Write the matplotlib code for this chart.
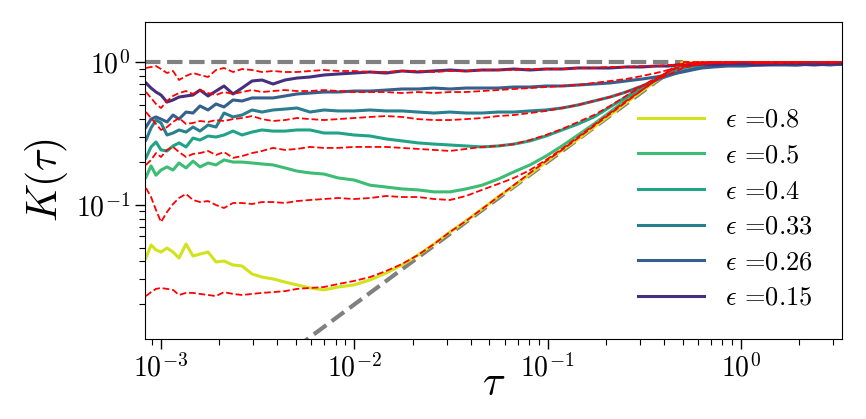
import matplotlib
matplotlib.use("Agg")
import matplotlib.pyplot as plt
import numpy as np

plt.rcParams['font.family'] = 'serif'
plt.rcParams['font.serif'] = ['cmr10', 'DejaVu Serif']
plt.rcParams['mathtext.fontset'] = 'cm'
plt.rcParams['axes.unicode_minus'] = False
plt.rcParams['axes.formatter.use_mathtext'] = True

# tau grid
tau = [8.36e-4, 8.88e-4, 9.42e-4, 1.000e-3, 1.074e-3, 1.154e-3, 1.239e-3, 1.347e-3, 1.464e-3, 1.591e-3,
       1.751e-3, 1.925e-3, 2.118e-3, 2.358e-3, 2.624e-3, 2.957e-3, 3.331e-3, 3.797e-3, 4.381e-3, 5.053e-3,
       5.900e-3, 6.970e-3, 8.236e-3, 9.96e-3, 1.206e-2, 1.459e-2, 1.765e-2, 2.136e-2, 2.584e-2, 3.126e-2,
       3.784e-2, 4.577e-2, 5.538e-2, 6.702e-2, 8.108e-2, 9.81e-2, 0.1187, 0.1437, 0.1738, 0.2103,
       0.2544, 0.3079, 0.3637, 0.4196, 0.4670, 0.500, 0.558, 0.629, 0.726, 0.858,
       1.038, 1.255, 1.556, 1.928, 2.389, 2.89, 3.34]

eps_labels = ['0.8', '0.5', '0.4', '0.33', '0.26', '0.15']
colors = ['#d2e21b', '#3dbc74', '#20a387', '#2a7f8e', '#355f8d', '#472f7d']

# numerics (solid)
K_08 = [0.0423, 0.0522, 0.0482, 0.0466, 0.0497, 0.0466, 0.0423, 0.0530, 0.0437, 0.0451,
        0.0466, 0.0397, 0.0403, 0.0378, 0.0372, 0.0327, 0.0311, 0.0302, 0.0287, 0.0274,
        0.0261, 0.0253, 0.0265, 0.0274, 0.0297, 0.0332, 0.0378, 0.0444, 0.0530, 0.0644,
        0.0769, 0.0933, 0.1132, 0.1352, 0.1641, 0.1992, 0.2416, 0.2887, 0.3503, 0.4251,
        0.5161, 0.6262, 0.736, 0.851, 0.937, 1.0, 0.984, 0.984, 0.984, 0.968,
        0.984, 0.984, 0.968, 0.984, 0.984, 0.984, 0.984]
K_05 = [0.156, 0.187, 0.161, 0.175, 0.184, 0.175, 0.196, 0.181, 0.202, 0.184,
        0.196, 0.190, 0.206, 0.199, 0.199, 0.196, 0.193, 0.190, 0.181, 0.172,
        0.167, 0.164, 0.154, 0.149, 0.137, 0.133, 0.129, 0.127, 0.123, 0.123,
        0.129, 0.137, 0.151, 0.170, 0.190, 0.219, 0.258, 0.308, 0.368, 0.446,
        0.542, 0.647, 0.748, 0.837, 0.893, 0.923, 0.953, 0.968, 0.968, 0.984,
        0.968, 0.984, 0.984, 0.968, 0.984, 0.984, 0.968]
K_04 = [0.213, 0.254, 0.275, 0.242, 0.238, 0.258, 0.271, 0.254, 0.293, 0.284,
        0.303, 0.298, 0.308, 0.328, 0.308, 0.323, 0.334, 0.328, 0.328, 0.334,
        0.334, 0.318, 0.318, 0.308, 0.303, 0.289, 0.280, 0.271, 0.266, 0.262,
        0.258, 0.254, 0.258, 0.266, 0.280, 0.303, 0.334, 0.368, 0.412, 0.484,
        0.568, 0.668, 0.760, 0.837, 0.879, 0.908, 0.937, 0.953, 0.968, 0.968,
        0.968, 0.968, 0.968, 0.984, 0.968, 0.968, 0.984]
K_033 = [0.284, 0.345, 0.392, 0.374, 0.308, 0.318, 0.334, 0.323, 0.350, 0.328,
         0.362, 0.350, 0.439, 0.412, 0.425, 0.461, 0.446, 0.461, 0.468, 0.476,
         0.446, 0.461, 0.454, 0.454, 0.461, 0.454, 0.454, 0.446, 0.439, 0.446,
         0.439, 0.439, 0.446, 0.446, 0.454, 0.461, 0.476, 0.500, 0.533, 0.568,
         0.616, 0.679, 0.748, 0.798, 0.837, 0.865, 0.893, 0.923, 0.937, 0.953,
         0.968, 0.968, 0.968, 0.953, 0.968, 0.968, 0.968]
K_026 = [0.350, 0.398, 0.412, 0.398, 0.380, 0.425, 0.398, 0.446, 0.439, 0.492,
         0.461, 0.508, 0.484, 0.542, 0.533, 0.560, 0.560, 0.560, 0.578, 0.597,
         0.606, 0.616, 0.616, 0.626, 0.626, 0.636, 0.647, 0.647, 0.657, 0.647,
         0.657, 0.657, 0.657, 0.668, 0.668, 0.679, 0.679, 0.690, 0.701, 0.713,
         0.736, 0.760, 0.785, 0.811, 0.837, 0.851, 0.879, 0.908, 0.923, 0.937,
         0.937, 0.953, 0.953, 0.953, 0.968, 0.953, 0.968]
K_015 = [0.713, 0.657, 0.616, 0.587, 0.524, 0.542, 0.568, 0.578, 0.587, 0.636,
         0.578, 0.626, 0.679, 0.597, 0.657, 0.736, 0.748, 0.701, 0.748, 0.772,
         0.785, 0.811, 0.824, 0.837, 0.851, 0.837, 0.865, 0.851, 0.865, 0.879,
         0.865, 0.879, 0.879, 0.893, 0.879, 0.893, 0.893, 0.908, 0.908, 0.908,
         0.923, 0.923, 0.937, 0.937, 0.953, 0.953, 0.953, 0.968, 0.953, 0.968,
         0.968, 0.953, 0.968, 0.968, 0.953, 0.968, 0.968]

# second data set (red dashed)
R_08 = [0.0229, 0.0244, 0.0257, 0.0261, 0.0257, 0.0253, 0.0233, 0.0241, 0.0241, 0.0237,
        0.0233, 0.0229, 0.0244, 0.0237, 0.0233, 0.0237, 0.0241, 0.0244, 0.0248, 0.0257,
        0.0261, 0.0265, 0.0278, 0.0292, 0.0311, 0.0343, 0.0384, 0.0444, 0.0530, 0.0644,
        0.0769, 0.0933, 0.1132, 0.1374, 0.167, 0.202, 0.242, 0.293, 0.356, 0.432,
        0.524, 0.636, 0.748, 0.865, 0.953, 1.0, 1.0, 1.0, 0.984, 1.0,
        1.0, 0.984, 1.0, 1.0, 1.0, 1.0, 1.0]
R_05 = [0.1309, 0.1132, 0.0918, 0.0756, 0.0889, 0.1011, 0.1114, 0.1189, 0.1079, 0.1044,
        0.1061, 0.0995, 0.0948, 0.1028, 0.1028, 0.1011, 0.1044, 0.1044, 0.1028, 0.1061,
        0.1079, 0.1096, 0.1114, 0.1096, 0.1114, 0.1151, 0.1132, 0.1132, 0.1096, 0.1079,
        0.1151, 0.127, 0.1397, 0.154, 0.175, 0.206, 0.246, 0.298, 0.362, 0.439,
        0.533, 0.636, 0.748, 0.851, 0.923, 0.968, 0.984, 1.0, 1.0, 0.984,
        1.0, 1.0, 1.0, 0.984, 1.0, 1.0, 1.0]
R_04 = [0.190, 0.206, 0.230, 0.216, 0.242, 0.254, 0.234, 0.216, 0.227, 0.230,
        0.238, 0.223, 0.234, 0.213, 0.219, 0.230, 0.238, 0.250, 0.242, 0.246,
        0.254, 0.250, 0.250, 0.254, 0.254, 0.254, 0.250, 0.246, 0.242, 0.238,
        0.246, 0.254, 0.258, 0.266, 0.284, 0.308, 0.339, 0.380, 0.425, 0.492,
        0.578, 0.679, 0.772, 0.851, 0.908, 0.937, 0.968, 0.984, 1.0, 0.984,
        1.0, 1.0, 0.984, 1.0, 1.0, 1.0, 1.0]
R_033 = [0.446, 0.405, 0.368, 0.334, 0.350, 0.380, 0.405, 0.368, 0.374, 0.386,
         0.380, 0.392, 0.386, 0.398, 0.405, 0.418, 0.398, 0.386, 0.392, 0.405,
         0.398, 0.392, 0.398, 0.405, 0.412, 0.418, 0.412, 0.398, 0.392, 0.392,
         0.398, 0.405, 0.418, 0.425, 0.439, 0.454, 0.476, 0.500, 0.533, 0.568,
         0.616, 0.679, 0.748, 0.811, 0.865, 0.908, 0.937, 0.968, 0.984, 1.0,
         1.0, 0.984, 1.0, 1.0, 1.0, 0.984, 1.0]
R_026 = [0.616, 0.560, 0.508, 0.476, 0.533, 0.578, 0.606, 0.626, 0.597, 0.636,
         0.606, 0.587, 0.616, 0.597, 0.616, 0.636, 0.616, 0.626, 0.636, 0.626,
         0.626, 0.636, 0.626, 0.616, 0.616, 0.616, 0.606, 0.616, 0.606, 0.616,
         0.616, 0.626, 0.636, 0.647, 0.657, 0.668, 0.679, 0.690, 0.713, 0.736,
         0.760, 0.798, 0.837, 0.879, 0.908, 0.923, 0.953, 0.968, 0.984, 1.0,
         1.0, 1.0, 0.984, 1.0, 1.0, 1.0, 1.0]
R_015 = [0.908, 0.923, 0.937, 0.893, 0.837, 0.865, 0.748, 0.798, 0.837, 0.811,
         0.785, 0.879, 0.908, 0.851, 0.893, 0.879, 0.851, 0.865, 0.851, 0.851,
         0.865, 0.879, 0.865, 0.865, 0.851, 0.851, 0.865, 0.865, 0.851, 0.865,
         0.865, 0.879, 0.879, 0.879, 0.893, 0.893, 0.893, 0.908, 0.908, 0.923,
         0.923, 0.937, 0.937, 0.953, 0.953, 0.968, 0.984, 0.984, 1.0, 1.0,
         1.0, 0.984, 1.0, 1.0, 1.0, 1.0, 1.0]

# gray reference lines (end points)
flat_tau = [8.26e-4, 0.5]
flat_K = [1.0, 1.0]
ramp_tau = [0.005, 0.5]
ramp_K = [0.01, 1.0]

solid = [K_08, K_05, K_04, K_033, K_026, K_015]
dashed = [R_08, R_05, R_04, R_033, R_026, R_015]

fig = plt.figure(figsize=(8.66, 4.19), dpi=100)
ax = fig.add_axes([0.1674, 0.1909, 0.8049, 0.7566])

ax.plot(flat_tau, flat_K, '--', color='gray', lw=3, zorder=1)
ax.plot(ramp_tau, ramp_K, '--', color='gray', lw=3, zorder=1)

for k, c, lab in zip(solid, colors, eps_labels):
    ax.plot(tau, k, '-', color=c, lw=2.2, label=r'$\epsilon$ =' + lab, zorder=2)
for r in dashed:
    ax.plot(tau, r, '--', color='red', lw=1.3, zorder=3)

ax.set_xscale('log')
ax.set_yscale('log')
ax.set_xlim(8.26e-4, 3.334)
ax.set_ylim(0.01145, 1.907)

ax.tick_params(which='major', labelsize=20, length=7, width=1)
ax.tick_params(which='minor', length=4, width=0.8)
ax.yaxis.set_minor_formatter(matplotlib.ticker.NullFormatter())
ax.set_xlabel(r'$\tau$', fontsize=30, labelpad=-12)
ax.set_ylabel(r'$K(\tau)$', fontsize=30)

ax.legend(loc='lower right', frameon=False, fontsize=19, handlelength=2.5,
          labelspacing=0.45, borderaxespad=0.7)

fig.savefig('out.png', dpi=100)
